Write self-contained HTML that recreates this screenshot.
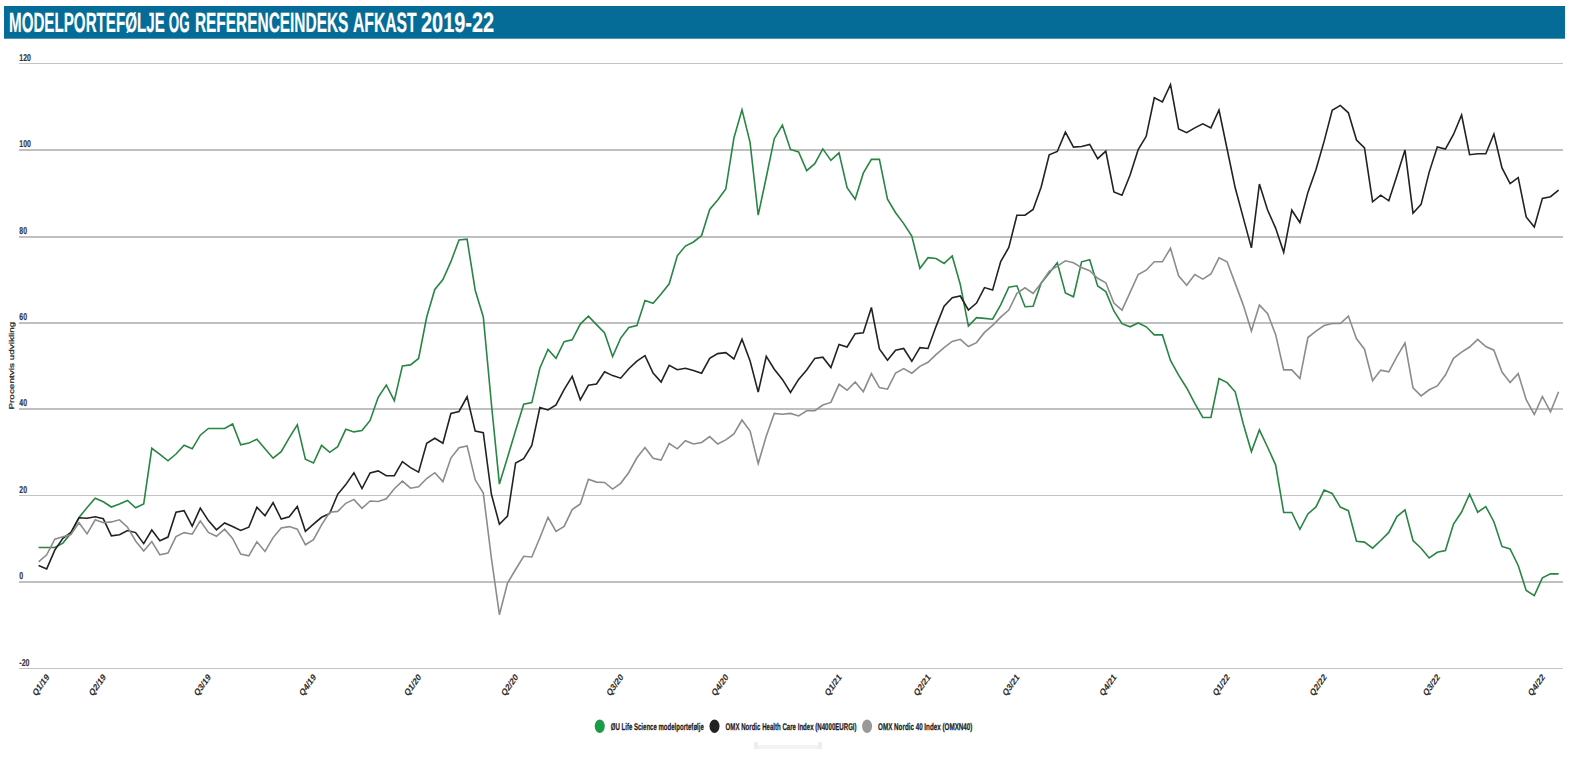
<!DOCTYPE html>
<html lang="da">
<head>
<meta charset="utf-8">
<title>Modelportefølje og referenceindeks afkast 2019-22</title>
<style>
html,body{margin:0;padding:0;background:#fff;}
body{width:1569px;height:766px;overflow:hidden;font-family:"Liberation Sans",sans-serif;}
svg{display:block;}
text{font-family:"Liberation Sans",sans-serif;text-rendering:geometricPrecision;}
.hd{font-weight:bold;font-size:27.8px;fill:#fff;stroke:#fff;stroke-width:0.2;}
.lab{font-weight:bold;font-size:9.7px;fill:#222;stroke:#222;stroke-width:0.25;}
.ax{font-weight:normal;font-size:7px;fill:#222;stroke:#222;stroke-width:0.22;}
.ln{fill:none;stroke-width:1.6;stroke-linejoin:miter;stroke-linecap:butt;}
</style>
</head>
<body>
<svg width="1569" height="766" viewBox="0 0 1569 766">
<rect x="0" y="0" width="1569" height="766" fill="#ffffff"/>
<rect x="4" y="6" width="1561" height="32.7" fill="#046c96"/>

<text class="hd" id="hd" y="32"><tspan id="hw0" x="9.0" textLength="155.8" lengthAdjust="spacingAndGlyphs">MODELPORTEFØLJE</tspan> <tspan id="hw1" x="168.8" textLength="20.8" lengthAdjust="spacingAndGlyphs">OG</tspan> <tspan id="hw2" x="194.9" textLength="153.5" lengthAdjust="spacingAndGlyphs">REFERENCEINDEKS</tspan> <tspan id="hw3" x="353.0" textLength="63.7" lengthAdjust="spacingAndGlyphs">AFKAST</tspan> <tspan id="hw4" x="421.0" textLength="73.2" lengthAdjust="spacingAndGlyphs">2019-22</tspan></text>
<g fill="#c0c0c0" shape-rendering="crispEdges">
<rect x="19" y="63" width="1544" height="1" fill="#c4c4c4"/>
<rect x="19" y="149" width="1544" height="2"/>
<rect x="19" y="236" width="1544" height="2"/>
<rect x="19" y="322" width="1544" height="2"/>
<rect x="19" y="408" width="1544" height="2"/>
<rect x="19" y="495" width="1544" height="1" fill="#c4c4c4"/>
<rect x="19" y="581" width="1544" height="2"/>
<rect x="19" y="668" width="1544" height="1" fill="#c4c4c4"/>
</g>
<text class="lab" style="font-size:10px;stroke-width:0.15;fill:#333;stroke:#333" id="yl0" x="19.3" y="60.8" textLength="11.6" lengthAdjust="spacingAndGlyphs">120</text>
<text class="lab" style="font-size:10px;stroke-width:0.15;fill:#333;stroke:#333" id="yl1" x="19.3" y="147.3" textLength="11.6" lengthAdjust="spacingAndGlyphs">100</text>
<text class="lab" style="font-size:10px;stroke-width:0.15;fill:#333;stroke:#333" id="yl2" x="19.3" y="234.3" textLength="7.7" lengthAdjust="spacingAndGlyphs">80</text>
<text class="lab" style="font-size:10px;stroke-width:0.15;fill:#333;stroke:#333" id="yl3" x="19.3" y="320.3" textLength="7.7" lengthAdjust="spacingAndGlyphs">60</text>
<text class="lab" style="font-size:10px;stroke-width:0.15;fill:#333;stroke:#333" id="yl4" x="19.3" y="406.3" textLength="7.7" lengthAdjust="spacingAndGlyphs">40</text>
<text class="lab" style="font-size:10px;stroke-width:0.15;fill:#333;stroke:#333" id="yl5" x="19.3" y="492.8" textLength="7.7" lengthAdjust="spacingAndGlyphs">20</text>
<text class="lab" style="font-size:10px;stroke-width:0.15;fill:#333;stroke:#333" id="yl6" x="19.3" y="579.3" textLength="3.9" lengthAdjust="spacingAndGlyphs">0</text>
<text class="lab" style="font-size:10px;stroke-width:0.15;fill:#333;stroke:#333" id="yl7" x="19.3" y="665.8" textLength="10.2" lengthAdjust="spacingAndGlyphs">-20</text>
<text class="ax" id="axt" transform="translate(13.7,409.6) rotate(-90)" textLength="88" lengthAdjust="spacingAndGlyphs">Procentvis udvikling</text>
<polyline class="ln" stroke="#288544" points="38.6,547.5 46.7,547.5 54.8,547.5 62.9,543.1 70.9,533.2 79.0,517.5 87.1,507.6 95.2,498.2 103.3,501.8 111.4,507.0 119.5,503.9 127.5,500.5 135.6,507.8 143.7,503.9 151.8,448.3 159.9,454.3 168.0,460.8 176.0,454.0 184.1,445.2 192.2,448.8 200.3,435.2 208.4,428.5 216.5,428.5 224.6,428.5 232.6,424.0 240.7,444.9 248.8,443.1 256.9,439.2 265.0,448.8 273.1,458.2 281.2,451.7 289.2,437.9 297.3,424.8 305.4,459.1 313.5,463.0 321.6,445.4 329.7,452.3 337.7,446.7 345.8,429.3 353.9,431.9 362.0,430.6 370.1,420.4 378.2,397.3 386.3,385.0 394.3,400.6 402.4,365.9 410.5,364.9 418.6,358.5 426.7,317.0 434.8,289.4 442.9,279.5 450.9,261.7 459.0,240.0 467.1,239.2 475.2,290.2 483.3,317.0 491.4,403.7 499.4,484.1 507.5,457.4 515.6,430.6 523.7,404.2 531.8,402.6 539.9,368.0 548.0,349.4 556.0,358.3 564.1,341.7 572.2,339.9 580.3,324.1 588.4,316.2 596.5,324.6 604.6,333.0 612.6,356.5 620.7,338.1 628.8,327.4 636.9,325.6 645.0,300.4 653.1,303.2 661.1,294.0 669.2,283.8 677.3,255.8 685.4,246.1 693.5,242.0 701.6,235.6 709.7,209.4 717.7,199.9 725.8,189.0 733.9,138.0 742.0,109.9 750.1,142.6 758.2,215.2 766.3,177.0 774.3,138.7 782.4,125.2 790.5,149.4 798.6,152.0 806.7,170.6 814.8,163.7 822.8,148.9 830.9,160.4 839.0,152.8 847.1,187.7 855.2,199.2 863.3,173.2 871.4,159.4 879.4,159.4 887.5,199.2 895.6,212.7 903.7,223.6 911.8,236.1 919.9,268.5 928.0,257.7 936.0,258.5 944.1,263.4 952.2,256.0 960.3,284.5 968.4,326.1 976.5,317.7 984.5,318.4 992.6,319.2 1000.7,304.9 1008.8,287.1 1016.9,285.8 1025.0,306.7 1033.1,306.2 1041.1,283.2 1049.2,273.0 1057.3,262.8 1065.4,292.9 1073.5,296.8 1081.6,261.8 1089.7,259.7 1097.7,286.0 1105.8,291.6 1113.9,311.0 1122.0,323.7 1130.1,326.8 1138.2,323.0 1146.2,326.8 1154.3,334.9 1162.4,334.9 1170.5,360.4 1178.6,375.2 1186.7,388.0 1194.8,403.3 1202.8,417.5 1210.9,417.5 1219.0,378.5 1227.1,382.6 1235.2,391.8 1243.3,424.0 1251.4,451.6 1259.4,429.9 1267.5,447.0 1275.6,464.8 1283.7,512.5 1291.8,512.5 1299.9,529.3 1307.9,514.0 1316.0,506.9 1324.1,490.1 1332.2,493.4 1340.3,507.1 1348.4,510.7 1356.5,541.3 1364.5,542.1 1372.6,548.2 1380.7,540.5 1388.8,532.4 1396.9,516.6 1405.0,509.9 1413.0,540.5 1421.1,548.2 1429.2,557.9 1437.3,552.3 1445.4,550.5 1453.5,524.0 1461.6,512.0 1469.6,494.1 1477.7,512.2 1485.8,506.6 1493.9,521.7 1502.0,546.4 1510.1,548.9 1518.2,565.5 1526.2,590.5 1534.3,595.6 1542.4,577.8 1550.5,573.9 1558.6,573.9"/>
<polyline class="ln" stroke="#222222" points="38.6,565.5 46.7,568.9 54.8,550.1 62.9,538.4 70.9,532.4 79.0,517.8 87.1,518.3 95.2,516.7 103.3,518.8 111.4,535.8 119.5,534.7 127.5,530.5 135.6,532.6 143.7,543.6 151.8,530.0 159.9,540.7 168.0,537.1 176.0,512.3 184.1,510.7 192.2,526.1 200.3,508.1 208.4,520.6 216.5,529.8 224.6,523.0 232.6,526.6 240.7,530.5 248.8,527.2 256.9,507.3 265.0,515.7 273.1,502.6 281.2,519.1 289.2,516.7 297.3,506.5 305.4,531.3 313.5,524.2 321.6,517.3 329.7,513.4 337.7,494.3 345.8,484.6 353.9,472.7 362.0,488.5 370.1,472.9 378.2,470.9 386.3,475.7 394.3,475.7 402.4,461.7 410.5,467.6 418.6,472.1 426.7,443.3 434.8,438.2 442.9,443.3 450.9,413.5 459.0,411.5 467.1,396.8 475.2,431.1 483.3,432.6 491.4,494.3 499.4,524.2 507.5,516.0 515.6,463.0 523.7,458.6 531.8,445.4 539.9,407.5 548.0,410.0 556.0,404.9 564.1,389.6 572.2,376.4 580.3,399.8 588.4,385.3 596.5,384.0 604.6,371.8 612.6,375.6 620.7,378.2 628.8,368.7 636.9,361.1 645.0,355.7 653.1,373.1 661.1,382.0 669.2,365.4 677.3,369.7 685.4,368.2 693.5,370.4 701.6,373.2 709.7,358.4 717.7,353.6 725.8,352.6 733.9,359.0 742.0,339.3 750.1,361.0 758.2,392.1 766.3,356.4 774.3,369.2 782.4,379.4 790.5,392.4 798.6,379.4 806.7,369.9 814.8,358.4 822.8,357.2 830.9,367.6 839.0,344.4 847.1,347.0 855.2,333.7 863.3,332.7 871.4,307.5 879.4,349.0 887.5,360.2 895.6,350.3 903.7,348.5 911.8,361.3 919.9,347.7 928.0,348.5 936.0,326.6 944.1,306.2 952.2,297.8 960.3,296.0 968.4,310.0 976.5,303.1 984.5,287.6 992.6,290.1 1000.7,261.6 1008.8,247.5 1016.9,215.2 1025.0,215.2 1033.1,209.4 1041.1,187.2 1049.2,154.8 1057.3,151.5 1065.4,132.1 1073.5,147.1 1081.6,146.5 1089.7,144.4 1097.7,158.7 1105.8,151.1 1113.9,191.9 1122.0,195.2 1130.1,175.0 1138.2,149.5 1146.2,136.3 1154.3,97.8 1162.4,101.9 1170.5,84.5 1178.6,128.9 1186.7,132.7 1194.8,127.9 1202.8,123.8 1210.9,127.9 1219.0,110.0 1227.1,149.0 1235.2,187.8 1243.3,217.9 1251.4,247.9 1259.4,184.0 1267.5,209.7 1275.6,228.1 1283.7,252.3 1291.8,210.2 1299.9,222.5 1307.9,192.4 1316.0,169.4 1324.1,141.4 1332.2,110.3 1340.3,105.4 1348.4,112.8 1356.5,140.1 1364.5,147.8 1372.6,201.8 1380.7,195.2 1388.8,200.8 1396.9,175.8 1405.0,150.1 1413.0,213.2 1421.1,204.4 1429.2,172.1 1437.3,147.0 1445.4,149.1 1453.5,134.5 1461.6,115.0 1469.6,154.7 1477.7,153.7 1485.8,153.7 1493.9,134.0 1502.0,167.9 1510.1,183.6 1518.2,177.7 1526.2,217.0 1534.3,227.0 1542.4,198.4 1550.5,196.7 1558.6,190.2"/>
<polyline class="ln" stroke="#8c8c8c" points="38.6,561.9 46.7,554.8 54.8,539.2 62.9,536.8 70.9,534.5 79.0,522.7 87.1,533.9 95.2,519.8 103.3,522.7 111.4,521.9 119.5,519.8 127.5,527.2 135.6,541.0 143.7,550.9 151.8,541.5 159.9,554.8 168.0,553.0 176.0,536.6 184.1,532.6 192.2,534.2 200.3,520.9 208.4,532.4 216.5,536.3 224.6,529.2 232.6,538.4 240.7,554.0 248.8,555.9 256.9,541.8 265.0,551.4 273.1,537.6 281.2,527.9 289.2,526.6 297.3,529.2 305.4,544.8 313.5,539.7 321.6,524.9 329.7,512.2 337.7,511.4 345.8,503.3 353.9,499.4 362.0,508.3 370.1,501.0 378.2,501.5 386.3,498.7 394.3,488.7 402.4,481.1 410.5,488.2 418.6,486.7 426.7,478.5 434.8,472.7 442.9,481.6 450.9,458.1 459.0,447.7 467.1,445.9 475.2,479.8 483.3,493.1 491.4,558.1 499.4,614.7 507.5,583.1 515.6,569.5 523.7,556.3 531.8,557.0 539.9,537.7 548.0,517.3 556.0,531.5 564.1,526.4 572.2,509.6 580.3,504.0 588.4,479.3 596.5,482.1 604.6,482.5 612.6,489.1 620.7,483.3 628.8,472.5 636.9,457.8 645.0,447.6 653.1,458.3 661.1,460.1 669.2,443.5 677.3,448.8 685.4,440.7 693.5,444.0 701.6,442.5 709.7,436.6 717.7,444.0 725.8,439.9 733.9,434.0 742.0,420.0 750.1,431.0 758.2,463.6 766.3,436.1 774.3,413.4 782.4,414.2 790.5,413.4 798.6,415.9 806.7,410.8 814.8,410.6 822.8,405.0 830.9,402.4 839.0,384.3 847.1,390.2 855.2,382.0 863.3,391.7 871.4,373.6 879.4,387.6 887.5,389.2 895.6,373.0 903.7,368.6 911.8,373.2 919.9,366.4 928.0,362.3 936.0,354.6 944.1,347.7 952.2,341.4 960.3,339.3 968.4,346.5 976.5,342.6 984.5,332.4 992.6,325.3 1000.7,317.1 1008.8,310.0 1016.9,293.4 1025.0,287.8 1033.1,293.4 1041.1,283.2 1049.2,271.3 1057.3,266.2 1065.4,260.8 1073.5,262.8 1081.6,267.6 1089.7,270.7 1097.7,278.3 1105.8,282.7 1113.9,303.1 1122.0,310.2 1130.1,292.4 1138.2,274.5 1146.2,270.2 1154.3,261.8 1162.4,261.8 1170.5,248.3 1178.6,275.8 1186.7,285.2 1194.8,274.5 1202.8,279.1 1210.9,274.0 1219.0,257.9 1227.1,261.8 1235.2,283.4 1243.3,305.1 1251.4,331.1 1259.4,305.1 1267.5,313.5 1275.6,334.4 1283.7,369.9 1291.8,369.9 1299.9,378.5 1307.9,337.5 1316.0,331.1 1324.1,325.5 1332.2,323.5 1340.3,323.5 1348.4,316.1 1356.5,338.8 1364.5,349.2 1372.6,380.8 1380.7,370.1 1388.8,371.9 1396.9,356.6 1405.0,343.1 1413.0,387.8 1421.1,395.9 1429.2,389.8 1437.3,385.9 1445.4,375.0 1453.5,358.3 1461.6,352.2 1469.6,347.0 1477.7,339.3 1485.8,346.6 1493.9,350.2 1502.0,372.1 1510.1,382.5 1518.2,373.6 1526.2,399.7 1534.3,414.5 1542.4,396.5 1550.5,411.8 1558.6,391.7"/>
<g transform="translate(49.7,677.6) scale(0.8,1) rotate(-48)"><text class="lab" style="stroke-width:0.1;fill:#2b2b2b;stroke:#2b2b2b" id="xl0" text-anchor="end" textLength="25.8" lengthAdjust="spacingAndGlyphs">Q1/19</text></g>
<g transform="translate(106.3,677.6) scale(0.8,1) rotate(-48)"><text class="lab" style="stroke-width:0.1;fill:#2b2b2b;stroke:#2b2b2b" id="xl1" text-anchor="end" textLength="25.8" lengthAdjust="spacingAndGlyphs">Q2/19</text></g>
<g transform="translate(211.4,677.6) scale(0.8,1) rotate(-48)"><text class="lab" style="stroke-width:0.1;fill:#2b2b2b;stroke:#2b2b2b" id="xl2" text-anchor="end" textLength="25.8" lengthAdjust="spacingAndGlyphs">Q3/19</text></g>
<g transform="translate(316.5,677.6) scale(0.8,1) rotate(-48)"><text class="lab" style="stroke-width:0.1;fill:#2b2b2b;stroke:#2b2b2b" id="xl3" text-anchor="end" textLength="25.8" lengthAdjust="spacingAndGlyphs">Q4/19</text></g>
<g transform="translate(421.6,677.6) scale(0.8,1) rotate(-48)"><text class="lab" style="stroke-width:0.1;fill:#2b2b2b;stroke:#2b2b2b" id="xl4" text-anchor="end" textLength="25.8" lengthAdjust="spacingAndGlyphs">Q1/20</text></g>
<g transform="translate(518.6,677.6) scale(0.8,1) rotate(-48)"><text class="lab" style="stroke-width:0.1;fill:#2b2b2b;stroke:#2b2b2b" id="xl5" text-anchor="end" textLength="25.8" lengthAdjust="spacingAndGlyphs">Q2/20</text></g>
<g transform="translate(623.7,677.6) scale(0.8,1) rotate(-48)"><text class="lab" style="stroke-width:0.1;fill:#2b2b2b;stroke:#2b2b2b" id="xl6" text-anchor="end" textLength="25.8" lengthAdjust="spacingAndGlyphs">Q3/20</text></g>
<g transform="translate(728.8,677.6) scale(0.8,1) rotate(-48)"><text class="lab" style="stroke-width:0.1;fill:#2b2b2b;stroke:#2b2b2b" id="xl7" text-anchor="end" textLength="25.8" lengthAdjust="spacingAndGlyphs">Q4/20</text></g>
<g transform="translate(842.0,677.6) scale(0.8,1) rotate(-48)"><text class="lab" style="stroke-width:0.1;fill:#2b2b2b;stroke:#2b2b2b" id="xl8" text-anchor="end" textLength="25.8" lengthAdjust="spacingAndGlyphs">Q1/21</text></g>
<g transform="translate(931.0,677.6) scale(0.8,1) rotate(-48)"><text class="lab" style="stroke-width:0.1;fill:#2b2b2b;stroke:#2b2b2b" id="xl9" text-anchor="end" textLength="25.8" lengthAdjust="spacingAndGlyphs">Q2/21</text></g>
<g transform="translate(1019.9,677.6) scale(0.8,1) rotate(-48)"><text class="lab" style="stroke-width:0.1;fill:#2b2b2b;stroke:#2b2b2b" id="xl10" text-anchor="end" textLength="25.8" lengthAdjust="spacingAndGlyphs">Q3/21</text></g>
<g transform="translate(1116.9,677.6) scale(0.8,1) rotate(-48)"><text class="lab" style="stroke-width:0.1;fill:#2b2b2b;stroke:#2b2b2b" id="xl11" text-anchor="end" textLength="25.8" lengthAdjust="spacingAndGlyphs">Q4/21</text></g>
<g transform="translate(1230.1,677.6) scale(0.8,1) rotate(-48)"><text class="lab" style="stroke-width:0.1;fill:#2b2b2b;stroke:#2b2b2b" id="xl12" text-anchor="end" textLength="25.8" lengthAdjust="spacingAndGlyphs">Q1/22</text></g>
<g transform="translate(1327.1,677.6) scale(0.8,1) rotate(-48)"><text class="lab" style="stroke-width:0.1;fill:#2b2b2b;stroke:#2b2b2b" id="xl13" text-anchor="end" textLength="25.8" lengthAdjust="spacingAndGlyphs">Q2/22</text></g>
<g transform="translate(1440.3,677.6) scale(0.8,1) rotate(-48)"><text class="lab" style="stroke-width:0.1;fill:#2b2b2b;stroke:#2b2b2b" id="xl14" text-anchor="end" textLength="25.8" lengthAdjust="spacingAndGlyphs">Q3/22</text></g>
<g transform="translate(1545.4,677.6) scale(0.8,1) rotate(-48)"><text class="lab" style="stroke-width:0.1;fill:#2b2b2b;stroke:#2b2b2b" id="xl15" text-anchor="end" textLength="25.8" lengthAdjust="spacingAndGlyphs">Q4/22</text></g>
<rect x="754" y="745" width="68" height="4" fill="#f3f3f3"/><rect x="754" y="742" width="4" height="7" fill="#eeeeee"/><rect x="818" y="742" width="4" height="7" fill="#eeeeee"/>
<ellipse cx="599.75" cy="726.2" rx="5.0" ry="6.75" fill="#1b9a47"/>
<text class="lab" id="lg0" x="610.8" y="730" textLength="93" lengthAdjust="spacingAndGlyphs">ØU Life Science modelportefølje</text>
<ellipse cx="714.5" cy="726.2" rx="5.0" ry="6.75" fill="#222222"/>
<text class="lab" id="lg1" x="725.6" y="730" textLength="131" lengthAdjust="spacingAndGlyphs">OMX Nordic Health Care Index (N4000EURGI)</text>
<ellipse cx="867.1" cy="726.2" rx="5.0" ry="6.75" fill="#999999"/>
<text class="lab" id="lg2" x="878.1" y="730" textLength="94.3" lengthAdjust="spacingAndGlyphs">OMX Nordic 40 Index (OMXN40)</text>
</svg>
</body>
</html>
